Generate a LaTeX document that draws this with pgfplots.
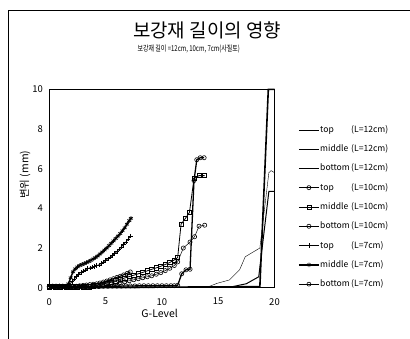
\documentclass[border=0pt]{standalone}
\usepackage{pgfplots}
\pgfplotsset{compat=1.18}
\usepackage{fontspec}
\setmainfont{Noto Sans CJK KR}
\begin{document}
\begin{tikzpicture}
\useasboundingbox (0bp,0bp) rectangle (410bp,339bp);
\draw[line width=0.6pt] (8bp,-5bp) -- (8bp,329bp) -- (415bp,329bp);
\node[font=\fontsize{19}{22}\selectfont] at (207bp,309bp) {보강재 길이의 영향};
\node[anchor=west, font=\fontsize{8}{9}\selectfont, xscale=0.75] at (135bp,290bp) {보강재 길이 =12cm, 10cm, 7cm(사질토)};
\begin{axis}[
  at={(49.3bp,51.3bp)}, anchor=south west, scale only axis,
  width=225.2bp, height=198.4bp,
  xmin=0, xmax=20, ymin=0, ymax=10,
  xtick={0,5,10,15,20}, ytick={0,2,4,6,8,10},
  major tick length=0pt,
  axis line style={line width=0.6pt},
  /pgf/number format/assume math mode=true,
  ticklabel style={font=\fontsize{9.5}{11}\selectfont},
  xticklabel style={yshift=-7bp},
  yticklabel style={xshift=-3bp},
  xlabel={G-Level}, ylabel={변위 (mm)},
  label style={font=\fontsize{10.5}{12}\selectfont},
  xlabel style={at={(axis description cs:0.49,-0.128)}, anchor=center},
  ylabel style={at={(axis description cs:-0.108,0.57)}, anchor=center, rotate=0},
  clip=false,
  legend cell align=left,
  legend style={at={(1.104,0.82)}, anchor=north west, draw=none, fill=none,
    font=\fontsize{8.6}{10}\selectfont, inner sep=0pt, row sep=10.2bp,
    nodes={inner sep=0.5bp, text height=6.5bp, text depth=1.6bp}},
  legend image code/.code={\draw[mark repeat=2,mark phase=2,#1] plot coordinates {(0bp,0bp) (10bp,0bp) (20bp,0bp)};},
]
% L=12cm
\addplot[black, line width=0.4pt] coordinates {(0,0) (14,0.02) (14.9,0.22) (16,0.39) (16.9,0.9) (17.4,1.56) (18.7,2.0) (19.5,5.8) (19.7,5.9) (20,5.8)};
\addlegendentry{\makebox[31bp][l]{top}(L=12cm)}
\addplot[black, line width=1.0pt] coordinates {(0,0) (16,0.02) (17.5,0.2) (18.6,0.55) (19.5,4.85) (20,4.85)};
\addlegendentry{\makebox[31bp][l]{middle}(L=12cm)}
\addplot[black, line width=1.6pt] coordinates {(0,0) (18.7,0.05) (19.45,10) (20,10)};
\addlegendentry{\makebox[31bp][l]{bottom}(L=12cm)}
% L=10cm
\addplot[black, line width=0.5pt, mark=o, mark size=2.1bp, mark options={line width=0.6pt, fill=white}] coordinates {
(0,0.05) (0.5,0.05) (1,0.05) (1.5,0.05) (2,0.05) (2.5,0.05) (3,0.05) (3.5,0.05) (3.9,0.08) (4.3,0.1) (4.7,0.12) (5.1,0.15) (5.5,0.18) (5.9,0.22) (6.3,0.26) (6.7,0.3) (7.1,0.35) (7.5,0.4) (7.9,0.45) (8.3,0.5) (8.7,0.55) (9.1,0.6) (9.5,0.68) (9.9,0.76) (10.3,0.86) (10.7,0.98) (11.1,1.12) (11.4,1.3) (11.9,2.0) (12.5,2.3) (12.9,2.57) (13.3,3.1) (13.8,3.15)};
\addlegendentry{\makebox[31bp][l]{top}(L=10cm)}
\addplot[black, line width=0.8pt, mark=square, mark size=2.1bp, mark options={line width=0.6pt, fill=white}] coordinates {
(0,0.05) (0.5,0.05) (1,0.05) (1.5,0.05) (2,0.05) (2.5,0.05) (3,0.05) (3.5,0.05) (3.9,0.1) (4.3,0.14) (4.7,0.18) (5.1,0.23) (5.5,0.29) (5.9,0.35) (6.3,0.42) (6.7,0.49) (7.1,0.56) (7.5,0.63) (7.9,0.7) (8.3,0.77) (8.7,0.85) (9.1,0.93) (9.5,1.0) (9.9,1.08) (10.3,1.17) (10.7,1.27) (11.1,1.4) (11.4,1.52) (11.7,3.2) (12.1,3.5) (12.45,3.8) (12.85,5.5) (13.3,5.65) (13.8,5.65)};
\addlegendentry{\makebox[31bp][l]{middle}(L=10cm)}
\addplot[black, line width=1.3pt, mark=o, mark size=2.1bp, mark options={line width=0.6pt, fill=white}] coordinates {
(0,0.05) (0.4,0.05) (0.8,0.05) (1.2,0.05) (1.6,0.05) (2,0.05) (2.4,0.05) (2.8,0.05) (3.2,0.05) (3.6,0.05) (4,0.06) (4.4,0.06) (4.8,0.07) (5.2,0.07) (5.6,0.08) (6,0.08) (6.4,0.08) (6.8,0.09) (7.2,0.09) (7.6,0.09) (8,0.1) (8.4,0.1) (8.8,0.1) (9.2,0.1) (9.6,0.1) (10,0.1) (10.4,0.1) (10.8,0.1) (11.1,0.1) (11.4,0.12) (11.76,0.7) (12.14,0.9) (12.5,0.93) (12.85,5.4) (13.1,6.45) (13.4,6.55) (13.75,6.55)};
\addlegendentry{\makebox[31bp][l]{bottom}(L=10cm)}
% L=7cm
\addplot[black, line width=0.7pt, mark=+, mark size=2.2bp, mark options={line width=0.6pt}] coordinates {
(0,0.08) (0.3,0.08) (0.6,0.08) (0.9,0.08) (1.2,0.08) (1.5,0.1) (1.8,0.15) (2.0,0.3) (2.2,0.43) (2.4,0.55) (2.6,0.68) (2.8,0.77) (3.0,0.84) (3.2,0.9) (3.4,0.96) (3.6,1.0) (3.8,1.04) (4.0,1.07) (4.2,1.11) (4.4,1.15) (4.6,1.22) (4.8,1.3) (5.0,1.38) (5.2,1.46) (5.4,1.54) (5.6,1.62) (5.8,1.72) (6.0,1.82) (6.2,1.94) (6.4,2.06) (6.6,2.18) (6.8,2.3) (7.0,2.44) (7.2,2.6)};
\addlegendentry{\makebox[31bp][l]{top}(L=7cm)}
\addplot[black, line width=1.4pt, mark=asterisk, mark size=2.2bp, mark options={line width=0.7pt}] coordinates {
(0,0.1) (0.3,0.1) (0.6,0.1) (0.9,0.1) (1.2,0.1) (1.5,0.1) (1.7,0.2) (1.9,0.5) (2.1,0.8) (2.3,0.95) (2.5,1.05) (2.7,1.12) (2.9,1.17) (3.1,1.22) (3.3,1.27) (3.5,1.32) (3.7,1.38) (3.9,1.45) (4.1,1.52) (4.3,1.6) (4.5,1.7) (4.7,1.8) (4.9,1.9) (5.1,2.0) (5.3,2.12) (5.5,2.24) (5.7,2.36) (5.9,2.48) (6.1,2.6) (6.3,2.73) (6.5,2.87) (6.7,3.02) (6.9,3.2) (7.1,3.38) (7.25,3.5)};
\addlegendentry{\makebox[31bp][l]{middle}(L=7cm)}
\addplot[black, line width=1.2pt, mark=o, mark size=2bp, mark options={line width=0.6pt, fill=white}] coordinates {
(0,0.05) (0.3,0.05) (0.6,0.05) (0.9,0.05) (1.2,0.05) (1.5,0.05) (1.8,0.06) (2.1,0.07) (2.4,0.08) (2.7,0.1) (3.0,0.12) (3.3,0.14) (3.6,0.16) (3.9,0.18) (4.2,0.2) (4.5,0.24) (4.8,0.29) (5.1,0.34) (5.4,0.4) (5.7,0.46) (6.0,0.52) (6.3,0.58) (6.6,0.65) (6.9,0.72) (7.2,0.8)};
\addlegendentry{\makebox[31bp][l]{bottom}(L=7cm)}
\end{axis}
\end{tikzpicture}
\end{document}
